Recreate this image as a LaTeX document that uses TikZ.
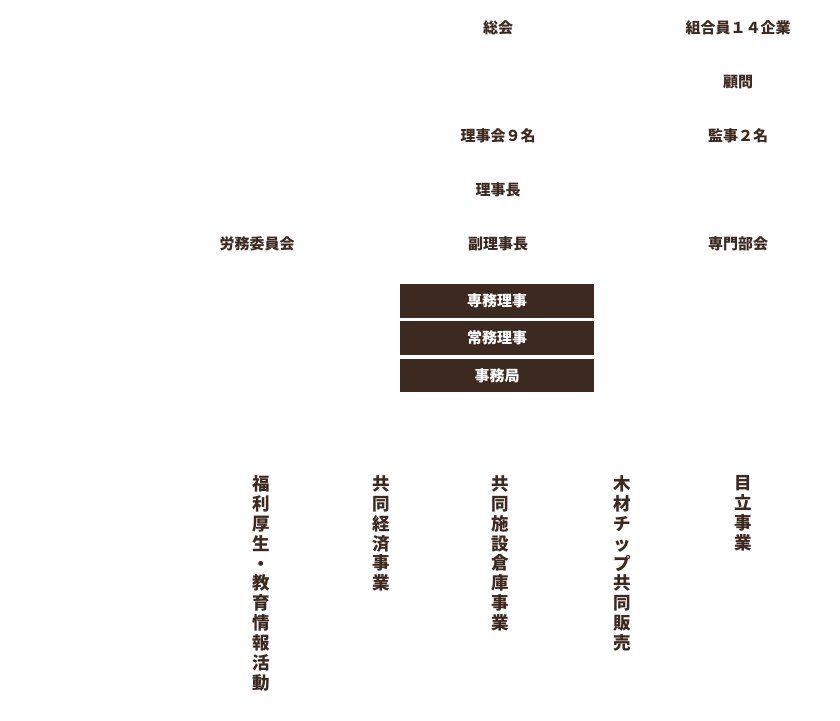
\documentclass[tikz,border=0pt]{standalone}
\usepackage{fontspec}
\setmainfont{Noto Sans CJK JP}
\definecolor{orgbrown}{RGB}{60,42,33}
\usepackage{tikz}
\usetikzlibrary{positioning}

\tikzset{
  label/.style={text=orgbrown, font=\fontsize{15}{18}\selectfont\bfseries, inner sep=0pt},
  officebox/.style={fill=orgbrown, text=white, font=\fontsize{15}{18}\selectfont\bfseries,
    minimum width=194pt, minimum height=33.5pt, inner sep=0pt},
  vlabel/.style={text=orgbrown, font=\fontsize{17.5}{19.85}\selectfont\bfseries,
    align=center, anchor=north, inner sep=0pt}
}

\begin{document}
\begin{tikzpicture}[x=1pt, y=-1pt]
  \useasboundingbox (0,0) rectangle (840,720);

  % upper part
  \node[label] (soukai) at (498, 28) {総会};
  \node[label] (kumiai) at (738, 28) {組合員１４企業};
  \node[label] (komon) at (738, 82) {顧問};
  \node[label] (rijikai) at (498, 136) {理事会９名};
  \node[label] (kanji) at (738, 136) {監事２名};
  \node[label] (rijicho) at (498, 190) {理事長};
  \node[label] (roumu) at (257, 244) {労務委員会};
  \node[label] (fukurijicho) at (498, 244) {副理事長};
  \node[label] (bukai) at (738, 244) {専門部会};

  % office
  \node[officebox] (senmu) at (497, 300.75) {専務理事};
  \node[officebox, below=3.5pt of senmu] (joumu) {常務理事};
  \node[officebox, below=3.5pt of joumu] (jimukyoku) {事務局};

  % projects
  \node[vlabel] (fukuri) at (261, 475.5)
    {福\\利\\厚\\生\\・\\教\\育\\情\\報\\活\\動};
  \node[vlabel] (keizai) at (381, 475.5)
    {共\\同\\経\\済\\事\\業};
  \node[vlabel] (souko) at (500, 475.5)
    {共\\同\\施\\設\\倉\\庫\\事\\業};
  \node[vlabel] (chip) at (622, 475.5)
    {木\\材\\チ\\ッ\\プ\\共\\同\\販\\売};
  \node[vlabel] (medate) at (743, 475.5)
    {目\\立\\事\\業};
\end{tikzpicture}
\end{document}
